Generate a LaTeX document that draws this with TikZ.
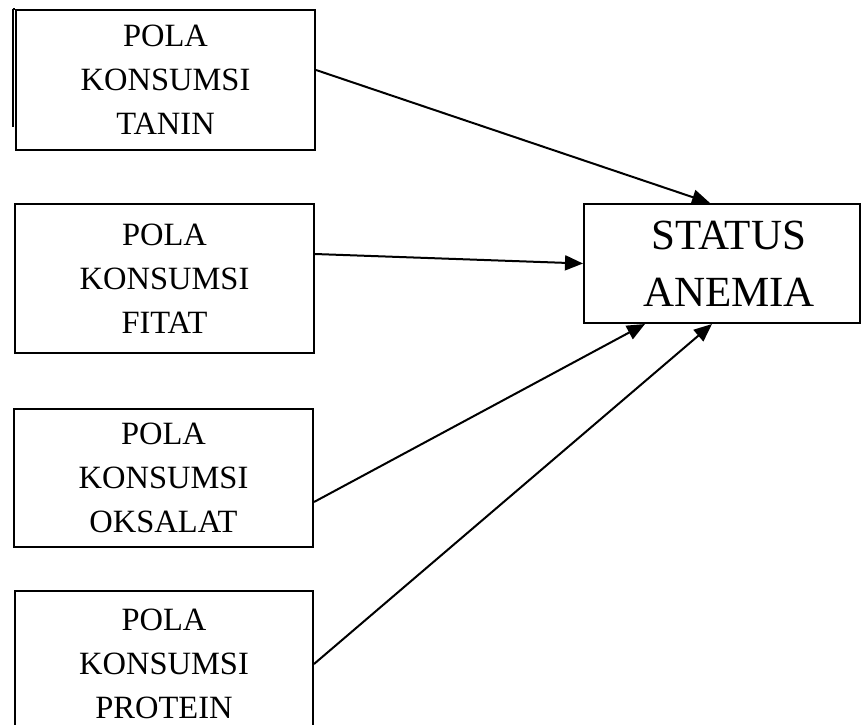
\documentclass[tikz,border=0pt]{standalone}
\usepackage{fontspec}
\setmainfont{Liberation Serif}
\usetikzlibrary{arrows.meta}
\tikzset{
  srcbox/.style={draw, line width=2pt, rectangle, inner sep=0pt, align=center,
    font=\fontsize{32.5}{44}\selectfont},
  stbox/.style={draw, line width=2pt, rectangle, inner sep=0pt, align=center,
    font=\fontsize{43}{57}\selectfont},
  conn/.style={line width=2pt, -{Triangle[length=18pt,width=15pt]}}
}
\begin{document}
\begin{tikzpicture}[x=1pt,y=-1pt]
\useasboundingbox (0,0) rectangle (862,724);
\clip (0,0) rectangle (862,724);
\node[srcbox, minimum width=299pt, minimum height=140pt] (b1) at (165.5,80) {POLA\\KONSUMSI\\TANIN};
\node[srcbox, minimum width=299pt, minimum height=149pt] (b2) at (164.5,278.5) {POLA\\KONSUMSI\\FITAT};
\node[srcbox, minimum width=299pt, minimum height=138pt] (b3) at (163.5,478) {POLA\\KONSUMSI\\OKSALAT};
\node[srcbox, minimum width=298pt, minimum height=146pt] (b4) at (164,664) {POLA\\KONSUMSI\\PROTEIN};
\node[stbox, minimum width=276pt, minimum height=119pt] (st) at (722,263.5) {\hspace*{14pt}STATUS\\\hspace*{14pt}ANEMIA};
% extra edge line at the left of the first box
\coordinate (e1) at ([xshift=-2.5pt]b1.north west);
\coordinate (e2) at ([xshift=-2.5pt,yshift=-118pt]b1.north west);
\draw[line width=2pt] (e1) -- (e2);
\draw[line width=2pt] (e1) -- (b1.north west);
% connectors
\draw[conn] ([yshift=10pt]b1.east) -- ([xshift=-12pt]st.north);
\draw[conn] ([yshift=24.5pt]b2.east) -- (st.west);
\draw[conn] ([yshift=-24pt]b3.east) -- ([xshift=-77pt]st.south);
\draw[conn] (b4.east) -- ([xshift=-10pt]st.south);
\end{tikzpicture}
\end{document}
